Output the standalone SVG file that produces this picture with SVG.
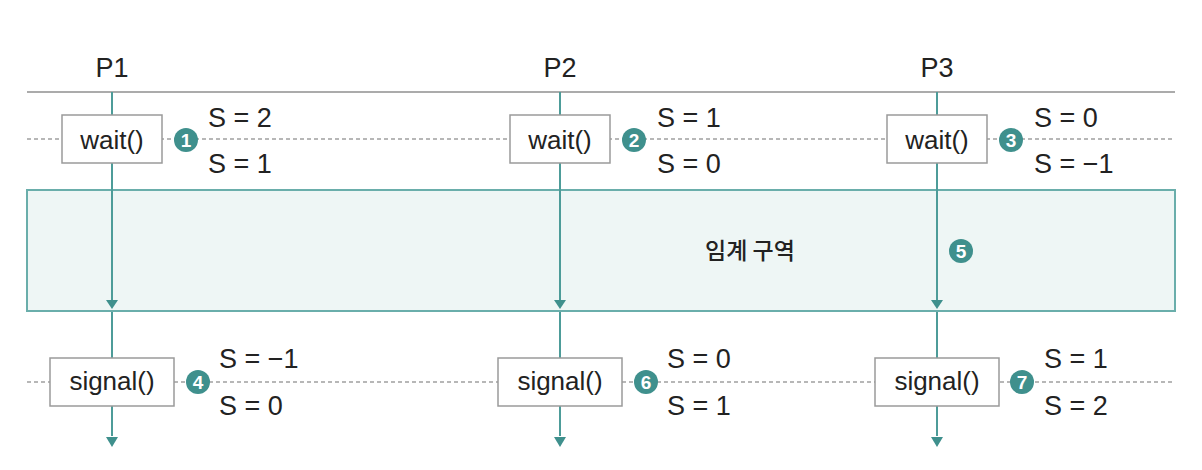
<svg xmlns="http://www.w3.org/2000/svg" width="1202" height="470" viewBox="0 0 1202 470">
<style>
.t{font-family:"Liberation Sans",Arial,sans-serif;font-size:27px;fill:#222}
.bx{fill:#fff;stroke:#9a9a9a;stroke-width:1.5}
.bt{font-family:"Liberation Sans",Arial,sans-serif;font-size:26px;fill:#222;text-anchor:middle}
.ln{stroke:#4d9c99;stroke-width:2;fill:none}
.ds{stroke:#a0a0a0;stroke-width:1.3;stroke-dasharray:4 3;fill:none}
.c{fill:#3f908d}
.n{font-family:"Liberation Sans",Arial,sans-serif;font-size:19px;font-weight:bold;fill:#fff;text-anchor:middle}
</style>
<g id="region">
<rect x="27" y="190" width="1148" height="121" fill="#eef6f5" stroke="#6aaeab" stroke-width="2"/>
<text x="750" y="259" style="font-family:'Noto Sans CJK KR','Noto Sans',sans-serif;font-size:23px;font-weight:500;fill:#222" text-anchor="middle">임계 구역</text>
</g>
<g id="connectors">
<line x1="27" y1="92" x2="1175" y2="92" stroke="#ababab" stroke-width="2"/>
<line class="ds" x1="27" y1="139" x2="1175" y2="139"/>
<line class="ds" x1="27" y1="382" x2="1175" y2="382"/>
<line class="ln" x1="112" y1="92" x2="112" y2="300"/>
<line class="ln" x1="112" y1="312" x2="112" y2="436"/>
<line class="ln" x1="560" y1="92" x2="560" y2="300"/>
<line class="ln" x1="560" y1="312" x2="560" y2="436"/>
<line class="ln" x1="937" y1="92" x2="937" y2="300"/>
<line class="ln" x1="937" y1="312" x2="937" y2="436"/>
<path class="c" d="M106,300 L118,300 L112,309 Z"/>
<path class="c" d="M554,300 L566,300 L560,309 Z"/>
<path class="c" d="M931,300 L943,300 L937,309 Z"/>
<path class="c" d="M106,437 L118,437 L112,447 Z"/>
<path class="c" d="M554,437 L566,437 L560,447 Z"/>
<path class="c" d="M931,437 L943,437 L937,447 Z"/>
</g>
<g id="labels">
<text class="t" x="112" y="77" text-anchor="middle">P1</text>
<text class="t" x="560" y="77" text-anchor="middle">P2</text>
<text class="t" x="937" y="77" text-anchor="middle">P3</text>
</g>
<g id="wait1">
<rect class="bx" x="62" y="115" width="100" height="48"/>
<text class="bt" x="112" y="149">wait()</text>
<circle class="c" cx="186" cy="140" r="12"/><text class="n" x="186" y="147">1</text>
<text class="t" x="208" y="127">S = 2</text>
<text class="t" x="208" y="173">S = 1</text>
</g>
<g id="wait2">
<rect class="bx" x="510" y="115" width="100" height="48"/>
<text class="bt" x="560" y="149">wait()</text>
<circle class="c" cx="634" cy="140" r="12"/><text class="n" x="634" y="147">2</text>
<text class="t" x="657" y="127">S = 1</text>
<text class="t" x="657" y="173">S = 0</text>
</g>
<g id="wait3">
<rect class="bx" x="887" y="115" width="100" height="48"/>
<text class="bt" x="937" y="149">wait()</text>
<circle class="c" cx="1011" cy="140" r="12"/><text class="n" x="1011" y="147">3</text>
<text class="t" x="1034" y="127">S = 0</text>
<text class="t" x="1034" y="173">S = −1</text>
</g>
<g id="cs5">
<circle class="c" cx="961" cy="251" r="12"/><text class="n" x="961" y="258">5</text>
</g>
<g id="signal1">
<rect class="bx" x="50" y="358" width="124" height="48"/>
<text class="bt" x="112" y="390">signal()</text>
<circle class="c" cx="198" cy="382" r="12"/><text class="n" x="198" y="389">4</text>
<text class="t" x="219" y="368">S = −1</text>
<text class="t" x="219" y="415">S = 0</text>
</g>
<g id="signal2">
<rect class="bx" x="498" y="358" width="124" height="48"/>
<text class="bt" x="560" y="390">signal()</text>
<circle class="c" cx="646" cy="382" r="12"/><text class="n" x="646" y="389">6</text>
<text class="t" x="667" y="368">S = 0</text>
<text class="t" x="667" y="415">S = 1</text>
</g>
<g id="signal3">
<rect class="bx" x="875" y="358" width="124" height="48"/>
<text class="bt" x="937" y="390">signal()</text>
<circle class="c" cx="1022" cy="382" r="12"/><text class="n" x="1022" y="389">7</text>
<text class="t" x="1044" y="368">S = 1</text>
<text class="t" x="1044" y="415">S = 2</text>
</g>
</svg>
